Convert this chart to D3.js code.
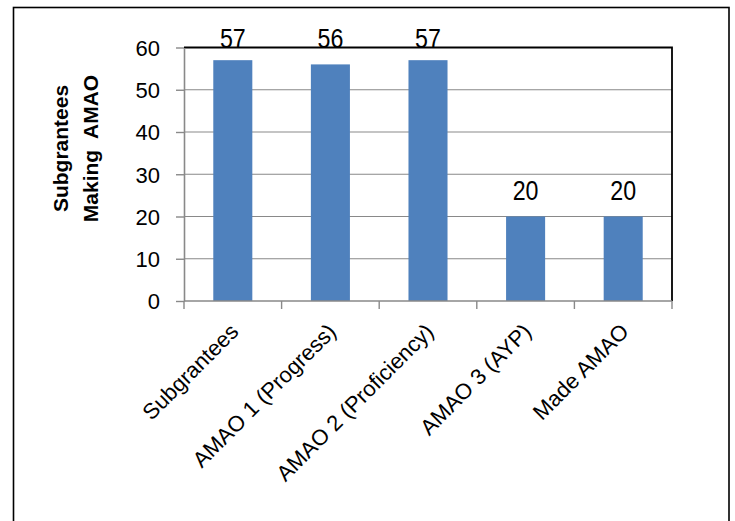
<!DOCTYPE html>
<html>
<head>
<meta charset="utf-8">
<script src="https://cdn.jsdelivr.net/npm/d3@7"></script>
<style>
  html, body { margin: 0; padding: 0; background: #fff; }
  svg { display: block; }
  text { font-family: "Liberation Sans", Arial, sans-serif; fill: #000; }
</style>
</head>
<body>
<svg id="chart" width="735" height="521"></svg>
<script>
// Subgrantees meeting each AMAO target
const categories = ["Subgrantees", "AMAO 1 (Progress)", "AMAO 2 (Proficiency)", "AMAO 3 (AYP)", "Made AMAO"];
const values = [57, 56, 57, 20, 20];
const yTicks = [0, 10, 20, 30, 40, 50, 60];
const yTitle = ["Subgrantees", "Making  AMAO"];

const svg = d3.select("#chart");
const plot = { left: 184, top: 47.5, right: 672, bottom: 301 };

// outer frame
svg.append("rect")
  .attr("x", 13.5).attr("y", 7.5)
  .attr("width", 715.5).attr("height", 530)
  .attr("fill", "none").attr("stroke", "#000").attr("stroke-width", 1.6);

const x = d3.scaleBand().domain(categories).range([plot.left, plot.right]).paddingInner(0.6).paddingOuter(0.3);
const y = d3.scaleLinear().domain([0, 60]).range([plot.bottom, plot.top]);
const bandStep = (plot.right - plot.left) / categories.length;
const cx = d => x(d) + x.bandwidth() / 2;

// horizontal gridlines
svg.append("g")
  .selectAll("line")
  .data(yTicks.filter(t => t > 0 && t < 60))
  .join("line")
  .attr("x1", plot.left).attr("x2", plot.right)
  .attr("y1", d => y(d)).attr("y2", d => y(d))
  .attr("stroke", "#898989").attr("stroke-width", 1.2);

// bars
svg.append("g")
  .selectAll("rect")
  .data(values)
  .join("rect")
  .attr("x", (d, i) => x(categories[i]))
  .attr("width", x.bandwidth())
  .attr("y", d => y(d))
  .attr("height", d => y(0) - y(d))
  .attr("fill", "#4f81bd");

// plot frame: top and right edges
svg.append("path")
  .attr("d", `M${plot.left},${plot.top}H${plot.right}V${plot.bottom}`)
  .attr("fill", "none").attr("stroke", "#000").attr("stroke-width", 1.8);

// value labels, kept from rising above the plot frame line
svg.append("g")
  .selectAll("text")
  .data(values)
  .join("text")
  .attr("transform", (d, i) => `translate(${cx(categories[i])},${Math.max(y(d) - 17, plot.top)}) scale(0.86,1)`)
  .attr("text-anchor", "middle")
  .attr("font-size", 27)
  .text(d => d);

// y axis
const yAxis = svg.append("g")
  .attr("transform", `translate(${plot.left},0)`)
  .call(d3.axisLeft(y).tickValues(yTicks).tickSize(8).tickPadding(16).tickSizeOuter(0));
yAxis.select(".domain").attr("stroke", "#898989").attr("stroke-width", 1.6);
yAxis.selectAll(".tick line").attr("stroke", "#898989").attr("stroke-width", 1.4);
yAxis.selectAll(".tick text")
  .attr("font-size", 22)
  .attr("font-family", null)
  .attr("fill", "#000")
  .attr("dy", "0.36em");

// x axis: ticks sit on category boundaries
const xAxisG = svg.append("g").attr("transform", `translate(0,${plot.bottom})`);
xAxisG.append("line")
  .attr("x1", plot.left).attr("x2", plot.right)
  .attr("stroke", "#898989").attr("stroke-width", 1.6);
xAxisG.selectAll("line.tick")
  .data(d3.range(categories.length + 1))
  .join("line")
  .attr("class", "tick")
  .attr("x1", i => plot.left + i * bandStep).attr("x2", i => plot.left + i * bandStep)
  .attr("y1", 0).attr("y2", 8)
  .attr("stroke", "#898989").attr("stroke-width", 1.4);

xAxisG.selectAll("text")
  .data(categories)
  .join("text")
  .attr("font-size", 22)
  .attr("text-anchor", "end")
  .attr("transform", d => `translate(${cx(d) + 7},32) rotate(-45)`)
  .text(d => d);

// y axis title, two centred lines reading bottom to top
const title = svg.append("text")
  .attr("font-size", 21)
  .attr("font-weight", "bold")
  .attr("text-anchor", "middle")
  .attr("transform", "translate(68,148.5) rotate(-90)")
  .style("white-space", "pre");
title.selectAll("tspan")
  .data(yTitle)
  .join("tspan")
  .attr("x", 0)
  .attr("dy", (d, i) => i === 0 ? 0 : 29.5)
  .text(d => d);
</script>
</body>
</html>
